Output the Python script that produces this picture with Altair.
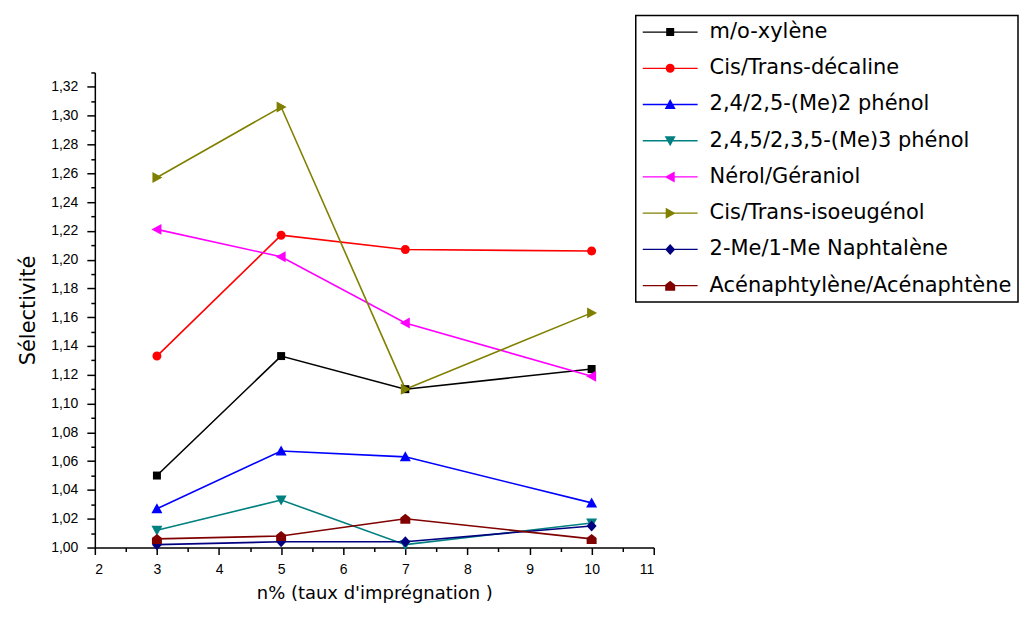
import altair as alt
import pandas as pd

# ---- data ----
taux = [3, 5, 7, 10]
series_names = [
    "m/o-xylène",
    "Cis/Trans-décaline",
    "2,4/2,5-(Me)2 phénol",
    "2,4,5/2,3,5-(Me)3 phénol",
    "Nérol/Géraniol",
    "Cis/Trans-isoeugénol",
    "2-Me/1-Me Naphtalène",
    "Acénaphtylène/Acénaphtène",
]
mo_xylene = [1.050, 1.133, 1.110, 1.124]
decaline = [1.133, 1.217, 1.207, 1.206]
me2_phenol = [1.027, 1.067, 1.063, 1.031]
me3_phenol = [1.012, 1.033, 1.002, 1.017]
nerol = [1.221, 1.202, 1.156, 1.119]
isoeugenol = [1.257, 1.306, 1.110, 1.163]
naphtalene = [1.002, 1.004, 1.004, 1.015]
acenaph = [1.006, 1.008, 1.020, 1.006]

values = [mo_xylene, decaline, me2_phenol, me3_phenol, nerol, isoeugenol, naphtalene, acenaph]
colors = ["#000000", "#FF0000", "#0000FF", "#008080", "#FF00FF", "#808000", "#000080", "#800000"]

# marker shapes (custom paths, unit box)
markers = [
    "M-0.8,-0.8H0.8V0.8H-0.8Z",
    "M-0.9,0A0.9,0.9 0 1,1 0.9,0A0.9,0.9 0 1,1 -0.9,0Z",
    "M0,-1.1L1.1,0.9H-1.1Z",
    "M0,1.1L-1.1,-0.9H1.1Z",
    "M-1.1,0L0.9,-1.1V1.1Z",
    "M1.1,0L-0.9,1.1V-1.1Z",
    "M0,-1.1L1,0L0,1.1L-1,0Z",
    "M0,-1L1,-0.2V1H-1V-0.2Z",
]
line_seg = "M-5.5,-0.13H5.5V0.13H-5.5Z"
legend_markers = [line_seg + m for m in markers]

rows = []
for name, vals in zip(series_names, values):
    for xv, yv in zip(taux, vals):
        rows.append({"x": xv, "y": yv, "series": name})
df = pd.DataFrame(rows)

x_ticks = [2 + 0.5 * i for i in range(19)]
y_ticks = [round(1 + 0.01 * i, 2) for i in range(34)]

x_enc = alt.X(
    "x:Q",
    scale=alt.Scale(domain=[2, 11], nice=False, zero=False),
    axis=alt.Axis(
        title="n% (taux d'imprégnation )",
        values=x_ticks,
        labelExpr="datum.value % 1 === 0 ? format(datum.value, 'd') : ''",
        tickSize={"condition": {"test": "datum.value % 1 === 0", "value": 7}, "value": 4},
        labelOverlap=False,
        labelPadding=8,
        titlePadding=8,
        titleFontSize=18,
    ),
)
y_enc = alt.Y(
    "y:Q",
    scale=alt.Scale(domain=[1.0, 1.33], nice=False, zero=False),
    axis=alt.Axis(
        title="Sélectivité",
        values=y_ticks,
        labelExpr="round(datum.value * 100) % 2 === 0 ? replace(format(datum.value, '.2f'), '.', ',') : ''",
        tickSize={"condition": {"test": "round(datum.value * 100) % 2 === 0", "value": 8}, "value": 4},
        labelOverlap=False,
        labelPadding=9,
        titlePadding=12,
        titleFontSize=21,
    ),
)

color_scale = alt.Scale(domain=series_names, range=colors)

lines = alt.Chart(df).mark_line(strokeWidth=1.6).encode(
    x=x_enc, y=y_enc,
    color=alt.Color("series:N", scale=color_scale, legend=None),
    detail="series:N",
)

points = alt.Chart(df).mark_point(filled=True, size=100, opacity=1, strokeWidth=0).encode(
    x=x_enc, y=y_enc,
    color=alt.Color("series:N", scale=color_scale, legend=None),
    shape=alt.Shape("series:N", scale=alt.Scale(domain=series_names, range=markers), legend=None),
)

leg = alt.Legend(
    title=None,
    orient="none",
    legendX=542,
    legendY=-57,
    padding=6,
    strokeColor="#000000",
    fillColor="#FFFFFF",
    symbolSize=100,
    symbolOffset=18,
    symbolOpacity=1,
    symbolStrokeWidth=0,
    labelOffset=29,
    labelFont="DejaVu Sans",
    labelFontSize=21,
    labelColor="#000000",
    labelLimit=0,
    rowPadding=14.3,
)

legend_layer = (
    alt.Chart(df)
    .transform_filter("false")
    .transform_calculate(leg="datum.series")
    .mark_point(filled=True, size=100, opacity=1, strokeWidth=0)
    .encode(
        x=x_enc, y=y_enc,
        color=alt.Color("leg:N", scale=color_scale, legend=leg),
        shape=alt.Shape("leg:N", scale=alt.Scale(domain=series_names, range=legend_markers), legend=leg),
    )
)

chart = (
    alt.layer(lines, points, legend_layer)
    .resolve_scale(color="independent", shape="independent")
    .properties(
        width=560,
        height=476,
        autosize=alt.AutoSizeParams(type="none"),
        padding={"left": 87, "top": 64, "right": 366, "bottom": 60},
        background="#FFFFFF",
    )
    .configure_view(stroke=None)
    .configure_axis(
        grid=False,
        domainColor="#000000",
        domainWidth=1.5,
        tickColor="#000000",
        tickWidth=1.5,
        labelColor="#000000",
        labelFont="Liberation Sans",
        labelFontSize=14,
        titleColor="#000000",
        titleFont="DejaVu Sans",
        titleFontWeight="normal",
    )
    .configure_legend(strokeWidth=1.5)
)

chart.save("out.html", embed_options={"renderer": "svg", "actions": False})
